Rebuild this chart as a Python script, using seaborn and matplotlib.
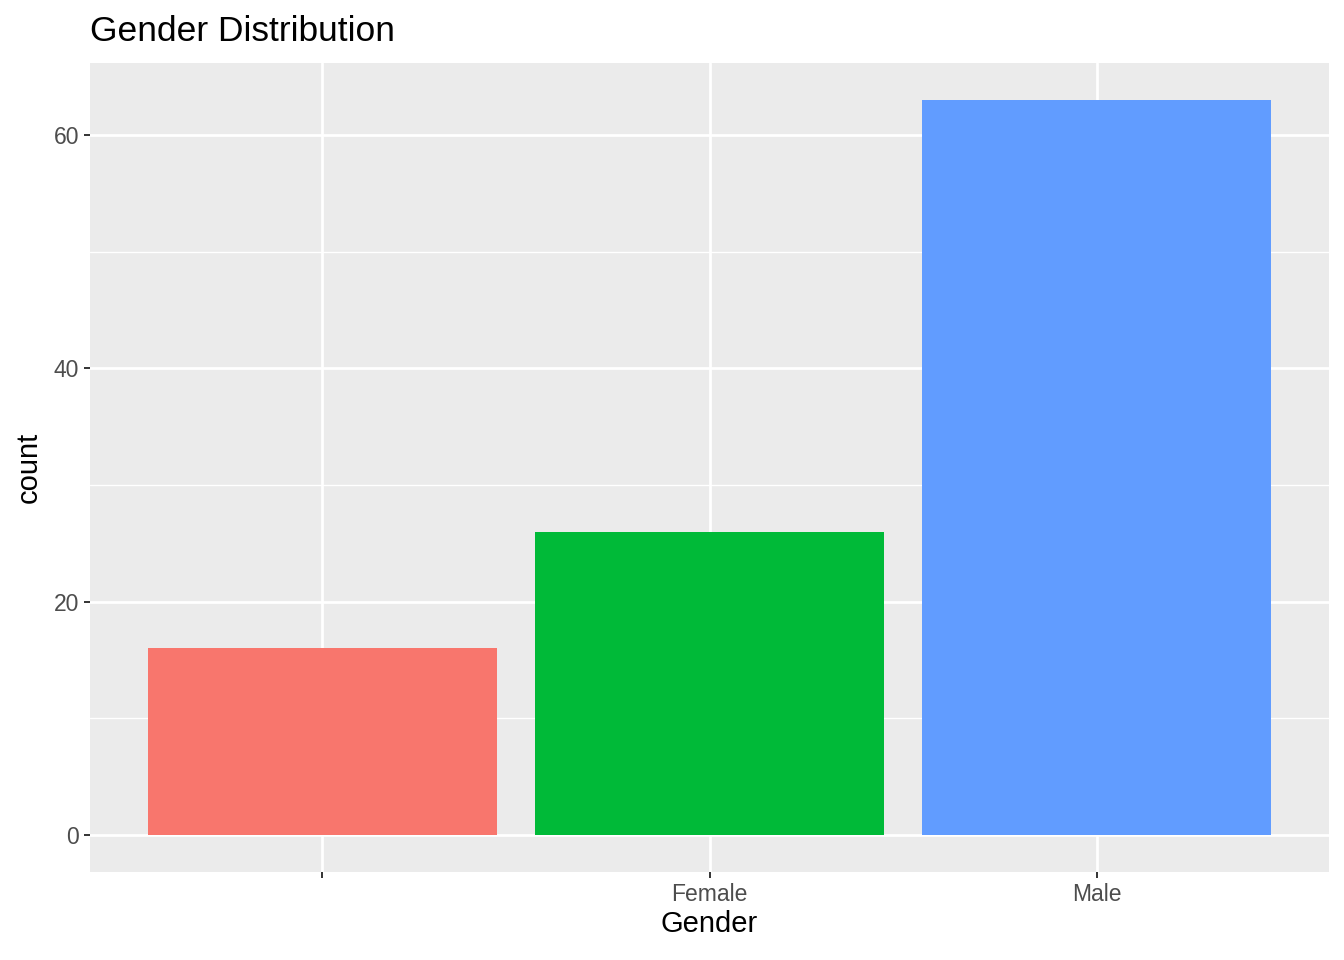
import numpy as np
import pandas as pd
import matplotlib
matplotlib.use("Agg")
import matplotlib.pyplot as plt
import seaborn as sns

# data
genders = ["", "Female", "Male"]
counts = [16, 26, 63]
bar_colors = ["#F8766D", "#00BA38", "#619CFF"]

df = pd.DataFrame({"Gender": genders, "count": counts})

sns.set_style("darkgrid")
plt.rcParams["font.family"] = ["Liberation Sans", "DejaVu Sans"]

fig = plt.figure(figsize=(13.44, 9.6), dpi=100)
ax = fig.add_axes([90 / 1344, 1 - 872 / 960, (1329 - 90) / 1344, (872 - 63) / 960])

sns.barplot(data=df, x="Gender", y="count", hue="Gender", palette=bar_colors,
            order=genders, hue_order=genders, width=0.9, saturation=1,
            legend=False, ax=ax)
for p in ax.patches:
    p.set_edgecolor("none")

ax.set_facecolor("#EBEBEB")
ax.set_xlim(-0.6, 2.6)
ax.set_ylim(-3.15, 66.15)
ax.set_yticks([0, 20, 40, 60])
ax.set_yticks([10, 30, 50], minor=True)
ax.grid(which="major", color="white", linewidth=2.0)
ax.grid(which="minor", color="white", linewidth=1.0)
ax.set_axisbelow(True)
for s in ax.spines.values():
    s.set_visible(False)

ax.tick_params(axis="both", which="major", length=4, width=1.4, color="#333333",
               labelsize=16.5, labelcolor="#4D4D4D", pad=4, bottom=True, left=True)
ax.tick_params(axis="y", which="minor", length=0)
ax.set_xlabel("Gender", fontsize=21, color="black", labelpad=3)
ax.set_ylabel("count", fontsize=21, color="black", labelpad=8)
ax.set_title("Gender Distribution", loc="left", fontsize=25.5, color="black", pad=16)

fig.savefig("out.png", dpi=100)
